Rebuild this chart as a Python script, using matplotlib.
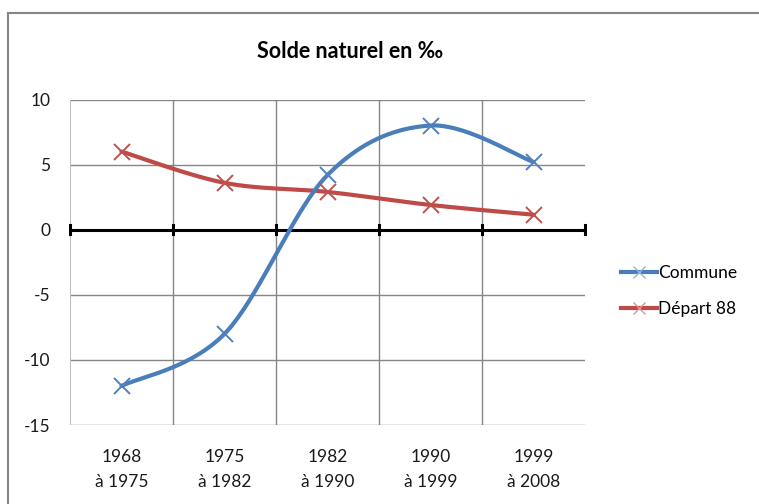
import matplotlib.pyplot as plt
import numpy as np
from matplotlib.lines import Line2D

# données
periodes = ['1968\nà 1975', '1975\nà 1982', '1982\nà 1990', '1990\nà 1999', '1999\nà 2008']
commune = [-12, -8, 4.2, 8, 5.2]
depart_88 = [6, 3.6, 2.9, 1.9, 1.15]

plt.rcParams['font.family'] = ['Lato', 'DejaVu Sans']
plt.rcParams['axes.unicode_minus'] = False


def lisser(x, y, n=40):
    # courbe lissée type Excel (Catmull-Rom)
    x = np.asarray(x, float)
    y = np.asarray(y, float)
    px = np.concatenate([[x[0]], x, [x[-1]]])
    py = np.concatenate([[y[0]], y, [y[-1]]])
    xs, ys = [], []
    t = np.linspace(0, 1, n)
    for i in range(1, len(px) - 2):
        p0, p1, p2, p3 = [np.array([px[j], py[j]]) for j in range(i - 1, i + 3)]
        c1 = p1 + (p2 - p0) / 6
        c2 = p2 - (p3 - p1) / 6
        pts = ((1 - t) ** 3)[:, None] * p1 + (3 * (1 - t) ** 2 * t)[:, None] * c1 \
            + (3 * (1 - t) * t ** 2)[:, None] * c2 + (t ** 3)[:, None] * p2
        xs.extend(pts[:, 0])
        ys.extend(pts[:, 1])
    return xs, ys


fig = plt.figure(figsize=(7.59, 5.04), dpi=100)
ax = fig.add_axes([70 / 759, 1 - 425 / 504, 515 / 759, 325.5 / 504])

# cadre extérieur
fig.add_artist(Line2D([8 / 759, 8 / 759], [0, 1 - 13 / 504], color='#868686', lw=1.5, transform=fig.transFigure))
fig.add_artist(Line2D([8 / 759, 1], [1 - 13 / 504, 1 - 13 / 504], color='#868686', lw=1.5, transform=fig.transFigure))

x = np.arange(len(periodes)) + 0.5
bleu_l, bleu_m = '#4A7EBB', '#4F81BD'
rouge_l, rouge_m = '#BE4B48', '#C0504D'

xs, ys = lisser(x, commune)
ax.plot(xs, ys, color=bleu_l, lw=3, zorder=4, solid_capstyle='round')
ax.plot(x, commune, 'x', color=bleu_m, ms=12, mew=1.4, zorder=5)
xs, ys = lisser(x, depart_88)
ax.plot(xs, ys, color=rouge_l, lw=3, zorder=3, solid_capstyle='round')
ax.plot(x, depart_88, 'x', color=rouge_m, ms=12, mew=1.4, zorder=5)

ax.set_xlim(0, 5)
ax.set_ylim(-15, 10)
ax.set_yticks([-15, -10, -5, 0, 5, 10])
ax.set_xticks(x)
ax.set_xticklabels(periodes, linespacing=1.75)
ax.tick_params(axis='both', length=0, labelsize=12.5, colors='#1a1a1a')
ax.tick_params(axis='y', pad=14)
ax.tick_params(axis='x', pad=17)

for v in [1, 2, 3, 4]:
    ax.axvline(v, color='#868686', lw=1, zorder=1)
for h in [-15, -10, -5, 5, 10]:
    ax.axhline(h, color='#868686', lw=1, zorder=1)
for s in ax.spines.values():
    s.set_visible(False)
ax.axvline(0, color='#BFBFBF', lw=1.5, zorder=1)

# axe zéro avec graduations
ax.axhline(0, color='black', lw=2.2, zorder=2)
for v in range(6):
    ax.plot([v, v], [-0.35, 0.35], color='black', lw=2.2, zorder=2, clip_on=False)

fig.text(350 / 759, 1 - 52 / 504, 'Solde naturel en ‰', ha='center', va='center',
         fontsize=15.5, fontweight='bold')

handles = [
    Line2D([], [], color=bleu_l, lw=3, marker='x', ms=9, mec='#95B3D7', mew=1),
    Line2D([], [], color=rouge_l, lw=3, marker='x', ms=9, mec='#D99694', mew=1),
]
fig.legend(handles, ['Commune', 'Départ 88'], loc='center left',
           bbox_to_anchor=(605 / 759, 1 - 291 / 504), frameon=False,
           fontsize=12.5, handlelength=2.1, handletextpad=0.05, labelspacing=1.2)

fig.savefig('out.png', dpi=100, facecolor='white')
